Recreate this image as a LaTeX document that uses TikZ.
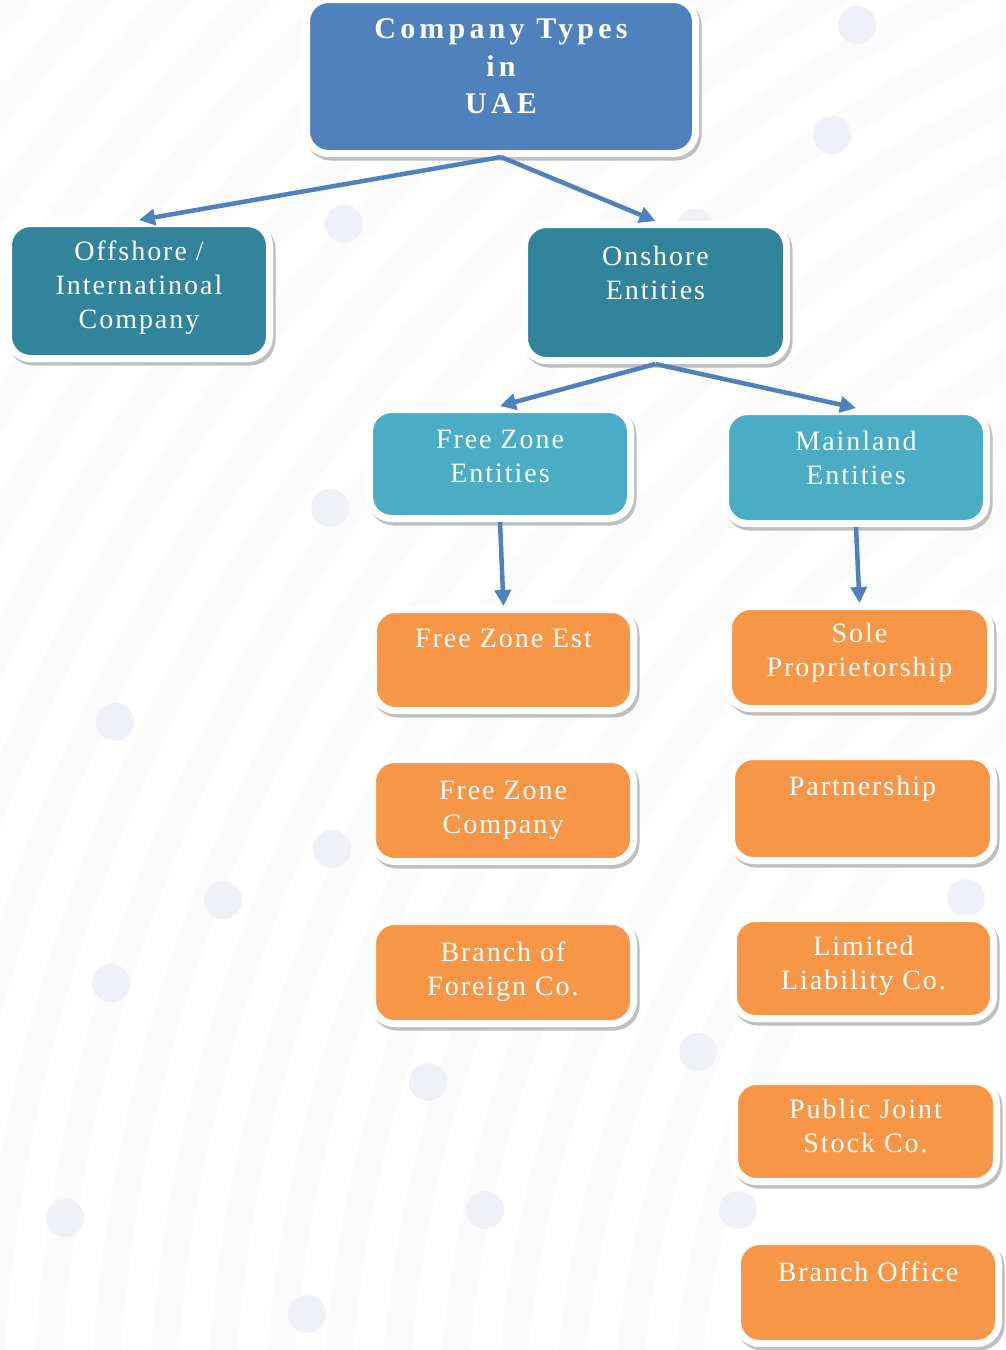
\documentclass[tikz,border=0pt]{standalone}
\usepackage{fontspec}
\setmainfont{Liberation Serif}
\newfontfamily\cardfont[LetterSpace=7]{Liberation Serif}
\newfontfamily\headfont[LetterSpace=14]{Liberation Serif}
\usetikzlibrary{arrows.meta,shadows}

\definecolor{hdblue}{HTML}{4F81BD}
\definecolor{tealbox}{HTML}{31849B}
\definecolor{aquabox}{HTML}{4BACC6}
\definecolor{orangebox}{HTML}{F79646}
\definecolor{bandgray}{RGB}{251,251,252}
\definecolor{dotgray}{RGB}{239,241,247}

% text block of a card: fixed size, lines set from the top
\newcommand{\cardtext}[4]{\parbox[c][#2][t]{#1}{\centering\vspace*{#3}\strut#4}}

\tikzset{
  card/.style={draw=white, line width=7pt, rounded corners=22pt, inner sep=0pt,
    text=white, font=\cardfont\fontsize{28}{34}\selectfont,
    drop shadow={shadow xshift=2.5pt, shadow yshift=-3.5pt, opacity=1,
      fill=black!25, draw=black!25, line width=7pt}},
  headcard/.style={card, fill=hdblue, font=\headfont\bfseries\fontsize{30}{37.5}\selectfont},
  tealcard/.style={card, fill=tealbox},
  aquacard/.style={card, fill=aquabox},
  orangecard/.style={card, fill=orangebox},
  conn/.style={draw=hdblue, line width=4.5pt, -{Triangle[length=16pt,width=16pt]}},
  bgdot/.style={fill=dotgray, draw=none}
}

\begin{document}
\begin{tikzpicture}[x=1pt,y=-1pt]
  \useasboundingbox (0,0) rectangle (1005,1350);
  \fill[white] (0,0) rectangle (1005,1350);

  % faint concentric bands and dots of the backdrop
  \begin{scope}
    \clip (0,0) rectangle (1005,1350);
    \foreach \r in {1000,1058,...,2220}
      \draw[bandgray, line width=28pt] (1683,1463) circle (\r);
    \foreach \p in {(857,25),(832,135),(344,224),(695,228),(330,508),(115,722),
                    (332,849),(223,900),(966,898),(111,983),(698,1052),(428,1082),
                    (485,1210),(738,1210),(65,1218),(307,1314)}
      \fill[bgdot] \p circle (19);
  \end{scope}

  % cards
  \node[headcard] (top) at (501,76.5)
    {\cardtext{389pt}{154pt}{13pt}{Company Types\\in\\UAE}};

  \node[tealcard] (off) at (139,291)
    {\cardtext{261pt}{135pt}{13pt}{Offshore /\\Internatinoal\\Company}};
  \node[tealcard] (on) at (655.5,292.5)
    {\cardtext{262pt}{136pt}{17pt}{Onshore\\Entities}};

  \node[aquacard] (fze) at (500,464)
    {\cardtext{261pt}{109pt}{15pt}{Free Zone\\Entities}};
  \node[aquacard] (mle) at (856,467.5)
    {\cardtext{261pt}{112pt}{15pt}{Mainland\\Entities}};

  \node[orangecard] (fzest) at (503.5,660)
    {\cardtext{260pt}{101pt}{14pt}{Free Zone Est}};
  \node[orangecard] (fzco) at (503,810.5)
    {\cardtext{261pt}{102pt}{16pt}{Free Zone\\Company}};
  \node[orangecard] (brf) at (503,972.5)
    {\cardtext{261pt}{102pt}{16pt}{Branch of\\Foreign Co.}};

  \node[orangecard] (sole) at (859.5,657.5)
    {\cardtext{262pt}{102pt}{12pt}{Sole\\Proprietorship}};
  \node[orangecard] (part) at (862.5,808.5)
    {\cardtext{262pt}{104pt}{15pt}{Partnership}};
  \node[orangecard] (llc) at (863.5,968.5)
    {\cardtext{260pt}{100pt}{13pt}{Limited\\Liability Co.}};
  \node[orangecard] (pjsc) at (865.5,1131.5)
    {\cardtext{262pt}{100pt}{13pt}{Public Joint\\Stock Co.}};
  \node[orangecard] (bro) at (868,1292.5)
    {\cardtext{261pt}{102pt}{16pt}{Branch Office}};

  % connectors
  \draw[conn] (top.south) -- (off.north);
  \draw[conn] (top.south) -- (on.north);
  \draw[conn] (on.south) -- (fze.north);
  \draw[conn] (on.south) -- (mle.north);
  \draw[conn] (fze.south) -- (fzest.north);
  \draw[conn] (mle.south) -- (sole.north);
\end{tikzpicture}
\end{document}
